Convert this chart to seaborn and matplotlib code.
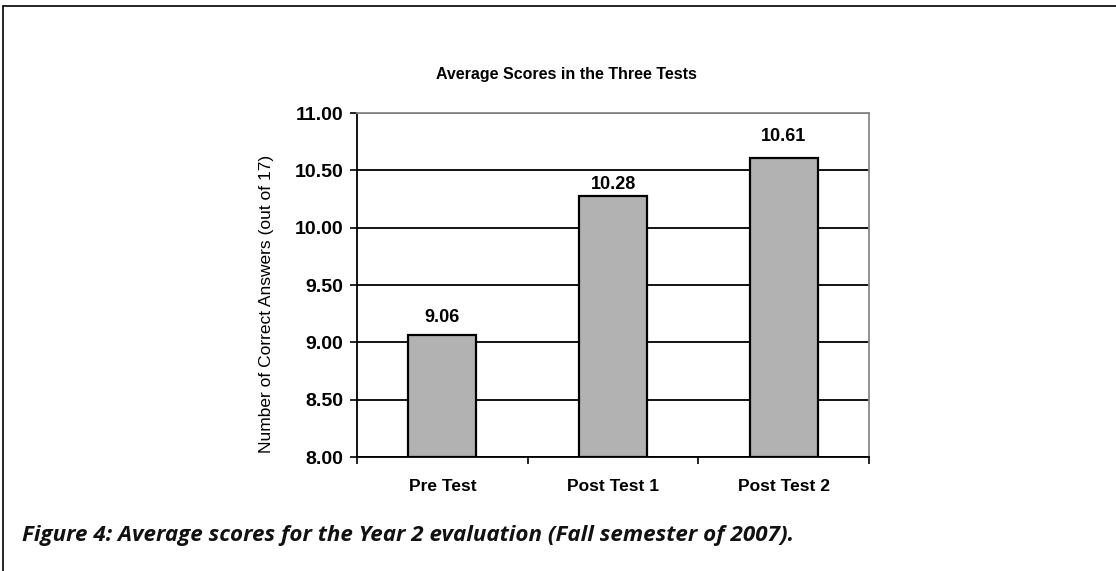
import matplotlib
matplotlib.use('Agg')
import matplotlib.pyplot as plt
import seaborn as sns
import pandas as pd
from matplotlib.lines import Line2D

# 데이터
tests = ['Pre Test', 'Post Test 1', 'Post Test 2']
scores = [9.06, 10.28, 10.61]
y_ticks = [8.00, 8.50, 9.00, 9.50, 10.00, 10.50, 11.00]
# 라벨 위치 조정 (막대 위 간격, y 단위)
label_gap = [0.157, 0.096, 0.183]

df = pd.DataFrame({'test': tests, 'score': scores})

sns.set_style('white')
plt.rcParams['font.family'] = ['Liberation Sans', 'DejaVu Sans']
plt.rcParams['text.color'] = 'black'
plt.rcParams['axes.labelcolor'] = 'black'
plt.rcParams['xtick.color'] = 'black'
plt.rcParams['ytick.color'] = 'black'

fig = plt.figure(figsize=(11.16, 5.71), dpi=100)
W, H = 1116, 571
ax = fig.add_axes([357 / W, 1 - 457 / H, (869 - 357) / W, (457 - 113) / H])

sns.barplot(data=df, x='test', y='score', color='#b2b2b2', width=0.4,
            edgecolor='black', linewidth=1.6, ax=ax, zorder=3)
# bars start at 8.00 (bottom of axis)
for p in ax.patches:
    p.set_y(8.0)
    p.set_height(p.get_height() - 8.0)

ax.set_ylim(8, 11)
ax.set_xlim(-0.5, 2.5)
ax.set_yticks(y_ticks)
ax.set_yticklabels([f'{v:.2f}' for v in y_ticks], fontsize=14, fontweight='bold')
ax.yaxis.grid(True, color='black', linewidth=1.3, zorder=0)
ax.set_axisbelow(True)

# x ticks at the category boundaries, labels centred under bars
ax.set_xticks([-0.5, 0.5, 1.5, 2.5])
ax.set_xticklabels([])
ax.set_xticks([0, 1, 2], minor=True)
ax.set_xticklabels(tests, minor=True, fontsize=12.5, fontweight='bold')
ax.tick_params(axis='x', which='minor', length=0, pad=16)
ax.tick_params(axis='x', which='major', direction='out', length=5, width=1.2, color='black', bottom=True)
ax.tick_params(axis='y', direction='out', length=5, width=1.2, color='black', left=True, pad=5)

for s in ['left', 'bottom']:
    ax.spines[s].set_color('black')
    ax.spines[s].set_linewidth(1.3)
for s in ['top', 'right']:
    ax.spines[s].set_color('#888888')
    ax.spines[s].set_linewidth(1.3)

ax.set_xlabel('')
ax.set_ylabel('Number of Correct Answers (out of 17)', fontsize=12.5, va='center')
ax.yaxis.set_label_coords(-0.176, 0.445)

# title centred over the whole chart area, not only the plot
fig.text(566 / W, 1 - 74 / H, 'Average Scores in the Three Tests',
         fontsize=11.5, fontweight='bold', ha='center', va='center')

for i, v in enumerate(scores):
    ax.text(i, v + label_gap[i], f'{v:.2f}', ha='center', va='center', fontsize=13, fontweight='bold')

fig.text(22 / W, 1 - 535 / H,
         'Figure 4: Average scores for the Year 2 evaluation (Fall semester of 2007).',
         fontsize=16.1, fontweight='bold', fontstyle='italic', va='center', ha='left',
         family=['Open Sans', 'DejaVu Sans'], color='#111111')

# outer frame (left and top)
fig.add_artist(Line2D([3 / W, 3 / W], [0, 1 - 6 / H], color='black', linewidth=1.2))
fig.add_artist(Line2D([3 / W, 1], [1 - 6 / H, 1 - 6 / H], color='black', linewidth=1.2))

fig.savefig('out.png', dpi=100)
